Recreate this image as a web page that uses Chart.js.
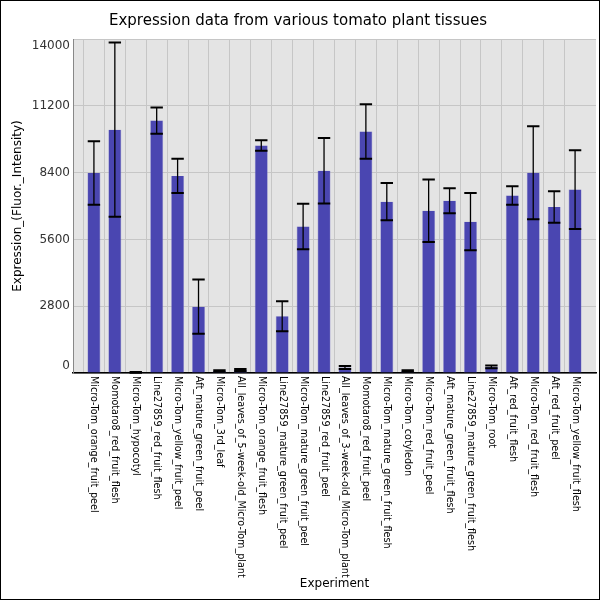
<!DOCTYPE html>
<html>
<head>
<meta charset="utf-8">
<script src="https://cdn.jsdelivr.net/npm/chart.js@4"></script>
<style>
  html, body { margin: 0; padding: 0; background: #fff; }
  #wrap { width: 600px; height: 600px; }
</style>
</head>
<body>
<div id="wrap"><canvas id="chart" width="600" height="600"></canvas></div>
<script>
// Expression data for tomato plant tissues

const experiments = [
  'Micro-Tom_orange_fruit_peel',
  'Momotaro8_red_fruit_flesh',
  'Micro-Tom_hypocotyl',
  'Line27859_red_fruit_flesh',
  'Micro-Tom_yellow_fruit_peel',
  'Aft_mature_green_fruit_peel',
  'Micro-Tom_3rd_leaf',
  'All_leaves_of_5-week-old_Micro-Tom_plant',
  'Micro-Tom_orange_fruit_flesh',
  'Line27859_mature_green_fruit_peel',
  'Micro-Tom_mature_green_fruit_peel',
  'Line27859_red_fruit_peel',
  'All_leaves_of_3-week-old_Micro-Tom_plant',
  'Momotaro8_red_fruit_peel',
  'Micro-Tom_mature_green_fruit_flesh',
  'Micro-Tom_cotyledon',
  'Micro-Tom_red_fruit_peel',
  'Aft_mature_green_fruit_flesh',
  'Line27859_mature_green_fruit_flesh',
  'Micro-Tom_root',
  'Aft_red_fruit_flesh',
  'Micro-Tom_red_fruit_flesh',
  'Aft_red_fruit_peel',
  'Micro-Tom_yellow_fruit_flesh'
];

const expression = [
  8380, 10200, 30, 10580, 8260, 2780, 85, 125,
  9540, 2380, 6140, 8480, 230, 10120, 7180, 85,
  6800, 7220, 6340, 255, 7440, 8390, 6960, 7690
];

const stdDev = [
  1330, 3650, 15, 550, 720, 1140, 28, 42,
  220, 630, 950, 1370, 63, 1140, 780, 30,
  1310, 525, 1200, 57, 390, 1950, 660, 1650
];

const yTicks = [0, 2800, 5600, 8400, 11200, 14000];

const barColor = '#4a46b1';
const plotBg = '#e4e4e4';
const gridColor = '#c6c6c6';

// plot background + outer frame
const backdrop = {
  id: 'backdrop',
  beforeDraw(chart) {
    const { ctx, chartArea: a } = chart;
    ctx.save();
    ctx.fillStyle = plotBg;
    ctx.fillRect(a.left, a.top, a.right - a.left, a.bottom - a.top);
    ctx.restore();
  },
  afterDraw(chart) {
    const ctx = chart.ctx;
    ctx.save();
    ctx.strokeStyle = '#000';
    ctx.lineWidth = 1;
    ctx.strokeRect(0.5, 0.5, chart.width - 1, chart.height - 1);
    ctx.restore();
  }
};

// error bars, placed through the chart's own scales
const errorBars = {
  id: 'errorBars',
  afterDatasetsDraw(chart) {
    const { ctx, scales: { x, y } } = chart;
    ctx.save();
    ctx.strokeStyle = '#000';
    expression.forEach((v, i) => {
      const px = x.getPixelForValue(i);
      const top = y.getPixelForValue(v + stdDev[i]);
      const bot = y.getPixelForValue(Math.max(0, v - stdDev[i]));
      ctx.lineWidth = 1.3;
      ctx.beginPath();
      ctx.moveTo(px, top);
      ctx.lineTo(px, bot);
      ctx.stroke();
      ctx.lineWidth = 2;
      ctx.beginPath();
      ctx.moveTo(px - 6.2, top);
      ctx.lineTo(px + 6.2, top);
      ctx.moveTo(px - 6.2, bot);
      ctx.lineTo(px + 6.2, bot);
      ctx.stroke();
    });
    ctx.restore();
  }
};

// category labels rotated clockwise, reading downwards from the axis
const xLabels = {
  id: 'xLabels',
  afterDraw(chart) {
    const { ctx, chartArea, scales: { x } } = chart;
    ctx.save();
    ctx.fillStyle = '#000';
    ctx.font = '9.6px "DejaVu Sans"';
    ctx.textAlign = 'left';
    ctx.textBaseline = 'middle';
    experiments.forEach((name, i) => {
      const px = x.getPixelForValue(i);
      ctx.save();
      ctx.translate(px, chartArea.bottom + 3);
      ctx.rotate(Math.PI / 2);
      ctx.fillText(name, 0, 0);
      ctx.restore();
    });
    ctx.restore();
  }
};

const lastTick = yTicks[yTicks.length - 1];

new Chart(document.getElementById('chart'), {
  type: 'bar',
  data: {
    datasets: [{
      label: 'Expression',
      data: expression.map((v, i) => ({ x: i, y: v })),
      backgroundColor: barColor,
      borderColor: 'rgba(120, 116, 200, 0.8)',
      borderWidth: { left: 0.6, right: 0.6, top: 0, bottom: 0 },
      barPercentage: 0.62,
      categoryPercentage: 1.0
    }]
  },
  options: {
    responsive: false,
    animation: false,
    devicePixelRatio: 1,
    layout: { padding: { left: 0, right: 4, top: 0, bottom: 9 } },
    plugins: {
      legend: { display: false },
      tooltip: { enabled: false },
      title: {
        display: true,
        text: 'Expression data from various tomato plant tissues',
        color: '#000',
        font: { family: 'DejaVu Sans', size: 15, weight: 'normal' },
        padding: { top: 12, bottom: 9 }
      }
    },
    scales: {
      x: {
        type: 'linear',
        min: -1,
        max: experiments.length,
        offset: false,
        afterFit(s) { s.height = 218; },
        ticks: { display: false, stepSize: 1 },
        grid: {
          drawTicks: false,
          color: c => (c.tick && (c.tick.value < 0 || c.tick.value >= experiments.length)) ? 'rgba(0,0,0,0)' : gridColor,
          lineWidth: 1
        },
        border: { color: '#000', width: 1.5 },
        title: {
          display: true,
          text: 'Experiment',
          color: '#000',
          font: { family: 'DejaVu Sans', size: 12 },
          padding: { top: 0, bottom: 0 }
        }
      },
      y: {
        min: 0,
        max: lastTick,
        afterFit(s) { s.width = 73; },
        afterBuildTicks(s) { s.ticks = yTicks.map(v => ({ value: v })); },
        ticks: {
          color: '#333',
          padding: 3,
          font: { family: 'DejaVu Sans', size: 12 },
          // end labels are nudged inside the plot like the original
          callback: v => v === lastTick ? ['', String(v)] : v === 0 ? ['0', ''] : String(v)
        },
        grid: { drawTicks: false, color: gridColor, lineWidth: 1 },
        border: { color: '#888', width: 1 },
        title: {
          display: true,
          text: 'Expression_(Fluor._Intensity)',
          color: '#000',
          font: { family: 'DejaVu Sans', size: 12 },
          padding: { top: 11, bottom: 0 }
        }
      }
    }
  },
  plugins: [backdrop, errorBars, xLabels]
});
</script>
</body>
</html>
